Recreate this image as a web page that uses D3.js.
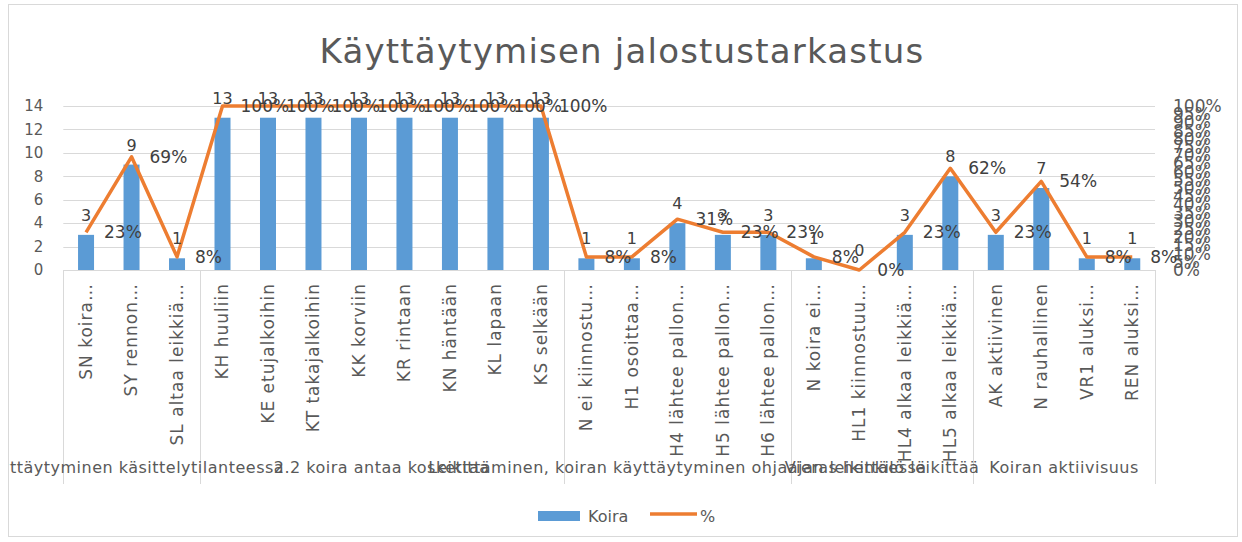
<!DOCTYPE html>
<meta charset="utf-8">
<style>
    body { margin: 0; background: #fff; }
    text { font-family: "DejaVu Sans", "Liberation Sans", Arial, sans-serif; fill: #595959; }
    .title { font-size: 34px; letter-spacing: 1.2px; }
    .left-axis .tick text { font-size: 15px; fill: #595959; }
    .right-axis .tick text { font-size: 17px; fill: #595959; }
    .cat { font-size: 17px; letter-spacing: 1px; }
    .grp { font-size: 16px; letter-spacing: 0.5px; }
    .lbl { font-size: 16px; fill: #404040; }
    .plbl { font-size: 17px; fill: #404040; }
    .legend { font-size: 16px; }
</style>
<body>
    <svg width="1242" height="542"></svg>
</body>
<script src="https://d3js.org/d3.v7.min.js"></script>
<script>
    // data
    var categories = ["SN koira…", "SY rennon…", "SL altaa leikkiä…",
        "KH huuliin", "KE etujalkoihin", "KT takajalkoihin", "KK korviin", "KR rintaan", "KN häntään", "KL lapaan", "KS selkään",
        "N ei kiinnostu…", "H1 osoittaa…", "H4 lähtee pallon…", "H5 lähtee pallon…", "H6 lähtee pallon…",
        "N koira ei…", "HL1 kiinnostuu…", "HL4 alkaa leikkiä…", "HL5 alkaa leikkiä…",
        "AK aktiivinen", "N rauhallinen", "VR1 aluksi…", "REN aluksi…"];
    var groups = ["Käyttäytyminen käsittelytilanteessa", "2.2 koira antaa koskettaa",
        "Leikittäminen, koiran käyttäytyminen ohjaajan leikittäessä", "Vieras henkilö leikittää", "Koiran aktiivisuus"];
    var groupSizes = [3, 8, 5, 4, 4];
    var koira = [3, 9, 1, 13, 13, 13, 13, 13, 13, 13, 13, 1, 1, 4, 3, 3, 1, 0, 3, 8, 3, 7, 1, 1];
    var pct = [23, 69, 8, 100, 100, 100, 100, 100, 100, 100, 100, 8, 8, 31, 23, 23, 8, 0, 23, 62, 23, 54, 8, 8];
    var leftTicks = [0, 2, 4, 6, 8, 10, 12, 14];
    var rightTicks = [0, 5, 10, 15, 20, 25, 30, 35, 40, 45, 50, 55, 60, 65, 70, 75, 80, 85, 90, 95, 100];

    function draw_chart() {
        var svg = d3.select("svg"),
            plotLeft = 63.3, plotRight = 1155, plotTop = 106, plotBottom = 270;

        svg.append("rect")
            .attr("x", 8.5).attr("y", 4.5)
            .attr("width", 1229).attr("height", 532)
            .attr("fill", "#fff").attr("stroke", "#d9d9d9");

        svg.append("defs").append("clipPath").attr("id", "frame")
            .append("rect").attr("x", 9).attr("y", 5).attr("width", 1228).attr("height", 531);

        svg.append("text")
            .attr("class", "title")
            .attr("x", 622).attr("y", 63)
            .attr("text-anchor", "middle")
            .text("Käyttäytymisen jalostustarkastus");

        var x = d3.scaleBand().domain(d3.range(categories.length)).range([plotLeft, plotRight]);
        var y = d3.scaleLinear().domain([0, 14]).range([plotBottom, plotTop]);
        var y2 = d3.scaleLinear().domain([0, 100]).range([plotBottom, plotTop]);
        var bw = x.bandwidth();
        var cx = function (i) { return x(i) + bw / 2; };

        // gridlines
        svg.append("g").selectAll("line")
            .data(leftTicks)
            .enter().append("line")
            .attr("x1", plotLeft).attr("x2", plotRight)
            .attr("y1", function (d) { return Math.round(y(d)) + 0.5; })
            .attr("y2", function (d) { return Math.round(y(d)) + 0.5; })
            .attr("stroke", "#d9d9d9").attr("stroke-width", 1);

        var ga = svg.append("g")
            .attr("class", "left-axis")
            .attr("transform", "translate(" + plotLeft + ",0)")
            .call(d3.axisLeft(y).tickValues(leftTicks).tickSize(0).tickPadding(20));
        ga.select(".domain").remove();

        var gb = svg.append("g")
            .attr("class", "right-axis")
            .attr("transform", "translate(" + plotRight + ",0)")
            .call(d3.axisRight(y2).tickValues(rightTicks).tickSize(0).tickPadding(18)
                .tickFormat(function (d) { return d + "%"; }));
        gb.select(".domain").remove();

        // bars
        svg.append("g").selectAll("rect")
            .data(koira)
            .enter().append("rect")
            .attr("x", function (d, i) { return cx(i) - 8; })
            .attr("width", 16)
            .attr("y", function (d) { return y(d); })
            .attr("height", function (d) { return plotBottom - y(d); })
            .attr("fill", "#5b9bd5");

        // line
        var line = d3.line()
            .x(function (d, i) { return cx(i); })
            .y(function (d) { return y2(d); });
        svg.append("path")
            .datum(pct)
            .attr("d", line)
            .attr("fill", "none")
            .attr("stroke", "#ed7d31")
            .attr("stroke-width", 3.5)
            .attr("stroke-linejoin", "round");

        // data labels
        svg.append("g").selectAll("text")
            .data(koira)
            .enter().append("text")
            .attr("class", "lbl")
            .attr("x", function (d, i) { return cx(i); })
            .attr("y", function (d) { return y(d) - 14; })
            .attr("text-anchor", "middle")
            .text(function (d) { return d; });

        svg.append("g").selectAll("text")
            .data(pct)
            .enter().append("text")
            .attr("class", "plbl")
            .attr("x", function (d, i) { return cx(i) + 18; })
            .attr("y", function (d) { return y2(d); })
            .attr("dy", "0.35em")
            .text(function (d) { return d + "%"; });

        // category labels
        svg.append("g").selectAll("text")
            .data(categories)
            .enter().append("text")
            .attr("class", "cat")
            .attr("transform", function (d, i) { return "translate(" + cx(i) + ",283) rotate(-90)"; })
            .attr("text-anchor", "end")
            .attr("dy", "0.35em")
            .text(function (d) { return d; });

        // group separators and labels
        var bounds = [0];
        groupSizes.forEach(function (n, i) { bounds.push(bounds[i] + n); });
        var edge = function (k) { return k < categories.length ? x(k) : plotRight; };

        svg.append("g").selectAll("line")
            .data(bounds)
            .enter().append("line")
            .attr("x1", function (k) { return Math.round(edge(k)) + 0.5; })
            .attr("x2", function (k) { return Math.round(edge(k)) + 0.5; })
            .attr("y1", plotBottom).attr("y2", 484)
            .attr("stroke", "#d9d9d9");

        svg.append("g").attr("clip-path", "url(#frame)").selectAll("text")
            .data(groups)
            .enter().append("text")
            .attr("class", "grp")
            .attr("x", function (d, i) { return (edge(bounds[i]) + edge(bounds[i + 1])) / 2; })
            .attr("y", 467)
            .attr("dy", "0.35em")
            .attr("text-anchor", "middle")
            .text(function (d) { return d; });

        // legend
        var lg = svg.append("g");
        lg.append("rect").attr("x", 538).attr("y", 511).attr("width", 42).attr("height", 10).attr("fill", "#5b9bd5");
        lg.append("text").attr("class", "legend").attr("x", 588).attr("y", 516).attr("dy", "0.35em").text("Koira");
        lg.append("line").attr("x1", 650).attr("x2", 697).attr("y1", 514).attr("y2", 514)
            .attr("stroke", "#ed7d31").attr("stroke-width", 3.5);
        lg.append("text").attr("class", "legend").attr("x", 700).attr("y", 516).attr("dy", "0.35em").text("%");
    }
    draw_chart();
</script>
